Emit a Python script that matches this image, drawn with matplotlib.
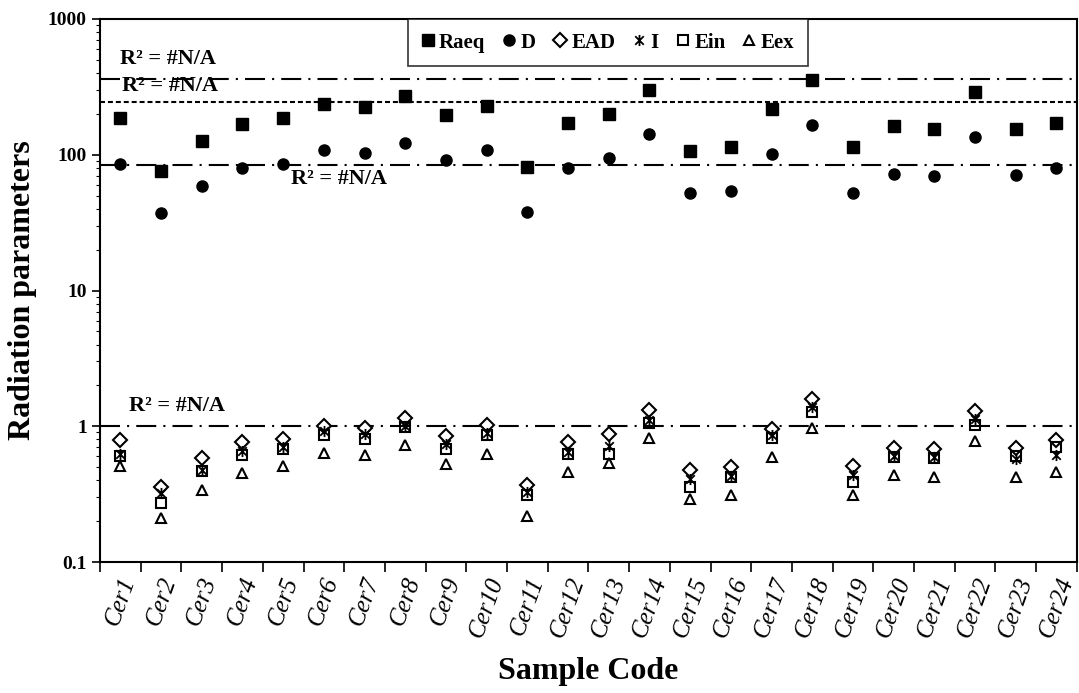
import matplotlib
matplotlib.use("Agg")
import matplotlib.pyplot as plt
from matplotlib.path import Path

# sample codes
samples = ["Cer%d" % i for i in range(1, 25)]

# radium equivalent activity (Bq/kg)
raeq = [188, 76, 126, 168, 188, 236, 224, 271, 197, 229, 81, 170,
        200, 302, 106, 114, 219, 358, 114, 162, 154, 289, 156, 170]
# absorbed dose rate (nGy/h)
dose = [85, 37, 59, 80, 86, 108, 103, 122, 91, 108, 38, 80,
        95, 141, 52, 54, 101, 166, 52, 72, 70, 136, 71, 80]
# annual effective dose (mSv/y)
ead = [0.79, 0.36, 0.58, 0.77, 0.80, 1.01, 0.97, 1.15, 0.85, 1.02, 0.37, 0.77,
       0.87, 1.32, 0.48, 0.50, 0.96, 1.58, 0.51, 0.69, 0.68, 1.29, 0.69, 0.79]
# gamma index
gamma_i = [0.63, 0.32, 0.48, 0.66, 0.70, 0.92, 0.88, 1.01, 0.74, 0.89, 0.33, 0.65,
           0.72, 1.12, 0.41, 0.43, 0.86, 1.38, 0.44, 0.60, 0.59, 1.13, 0.57, 0.61]
# internal hazard index
ein = [0.60, 0.27, 0.47, 0.61, 0.68, 0.86, 0.81, 0.98, 0.68, 0.86, 0.31, 0.63,
       0.63, 1.05, 0.36, 0.42, 0.82, 1.27, 0.39, 0.59, 0.58, 1.02, 0.60, 0.70]
# external hazard index
eex = [0.51, 0.21, 0.34, 0.45, 0.51, 0.64, 0.61, 0.73, 0.53, 0.62, 0.22, 0.46,
       0.54, 0.82, 0.29, 0.31, 0.59, 0.97, 0.31, 0.44, 0.42, 0.78, 0.42, 0.46]

# horizontal reference/trend lines
ref_lines = [360, 243, 84, 1]

plt.rcParams["font.family"] = "Liberation Serif"

fig = plt.figure(figsize=(10.79, 6.93), dpi=100)
ax = fig.add_axes([0.0927, 0.189, 0.9053, 0.7836])

x = list(range(len(samples)))

# Excel-style star marker: an X with a vertical bar through it
star = Path([(-1, -1), (1, 1), (-1, 1), (1, -1), (0, -1.3), (0, 1.3)],
            [Path.MOVETO, Path.LINETO] * 3)

ax.plot(x, raeq, ls="none", marker="s", ms=8, color="black", label="Raeq")
ax.plot(x, dose, ls="none", marker="o", ms=8, color="black", label="D")
ax.plot(x, ead, ls="none", marker="D", ms=7, mfc="white", mec="black", mew=1.5, label="EAD")
ax.plot(x, gamma_i, ls="none", marker=star, ms=8, mfc="none", mec="black", mew=1.3, label="I")
ax.plot(x, ein, ls="none", marker="s", ms=7, mfc="none", mec="black", mew=1.5, label="Ein")
ax.plot(x, eex, ls="none", marker="^", ms=7, mfc="none", mec="black", mew=1.5, label="Eex")

dashdot = (0, (9.6, 3.4, 1.0, 3.4))
ax.axhline(ref_lines[0], color="black", lw=1.5, ls=dashdot, zorder=1)
ax.axhline(ref_lines[1], color="black", lw=1.5, ls=(0, (2.4, 1.4)), zorder=1)
ax.axhline(ref_lines[2], color="black", lw=1.5, ls=dashdot, zorder=1)
ax.axhline(ref_lines[3], color="black", lw=1.5, ls=dashdot, zorder=1)

# trendline labels
lbl = dict(fontsize=16, fontweight="bold", ha="left", va="center")
ax.text(0.0, 510, "R² = #N/A", **lbl)
ax.text(0.05, 320, "R² = #N/A", **lbl)
ax.text(4.2, 66, "R² = #N/A", **lbl)
ax.text(0.2, 1.42, "R² = #N/A", **lbl)

ax.set_yscale("log")
ax.set_ylim(0.1, 1000)
ax.set_xlim(-0.5, len(samples) - 0.5)

ax.set_yticks([0.1, 1, 10, 100, 1000])
ax.set_yticklabels(["0.1", "1", "10", "100", "1000"], fontsize=14, fontweight="bold")
ax.tick_params(axis="y", which="major", direction="out", length=6, width=1.2)
ax.tick_params(axis="y", which="minor", direction="out", length=3, width=0.8)

ax.set_xticks(x)
ax.set_xticklabels(samples, rotation=70, fontsize=18, style="italic")
ax.set_xticks([i - 0.5 for i in range(len(samples) + 1)], minor=True)
ax.tick_params(axis="x", which="major", length=0, pad=9)
ax.tick_params(axis="x", which="minor", direction="out", length=7, width=1.2)

for s in ax.spines.values():
    s.set_linewidth(1.5)

ax.set_ylabel("Radiation parameters", fontsize=23, fontweight="bold", labelpad=8)
ax.set_xlabel("Sample Code", fontsize=23, fontweight="bold", labelpad=12)

leg = ax.legend(loc="upper left", bbox_to_anchor=(0.315, 1.0), ncol=6,
                prop={"size": 15, "weight": "bold"}, frameon=True, fancybox=False,
                edgecolor="black", handlelength=0.6, handletextpad=0.25,
                columnspacing=0.85, borderpad=0.65, borderaxespad=0)
leg.get_frame().set_linewidth(1.2)

fig.savefig("out.png", dpi=100, facecolor="white")
